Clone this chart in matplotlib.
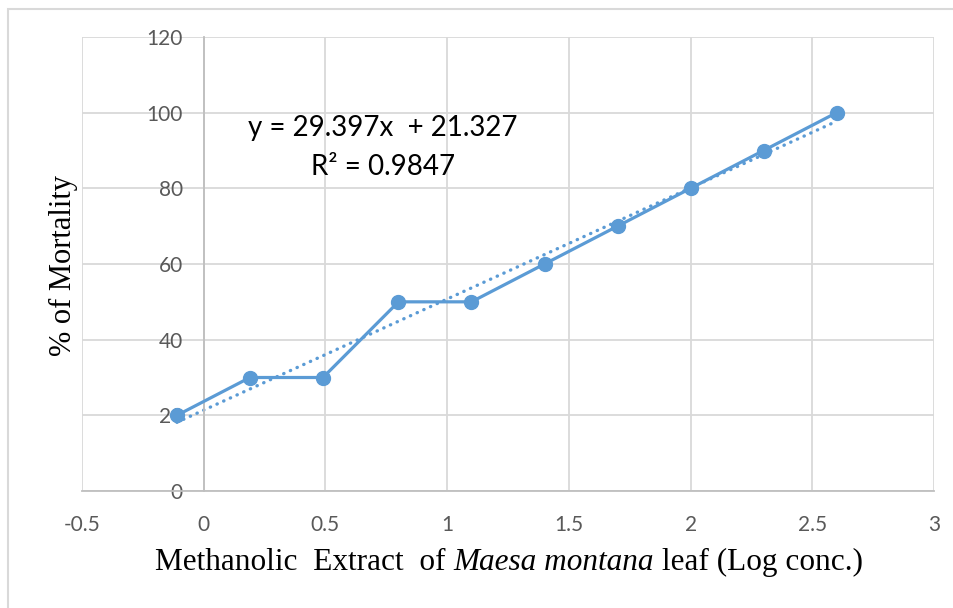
import numpy as np
import matplotlib
matplotlib.use('Agg')
import matplotlib.pyplot as plt
from matplotlib.patches import Rectangle

# Dados
log_conc = [-0.11, 0.19, 0.49, 0.80, 1.10, 1.40, 1.70, 2.00, 2.30, 2.60]
mortality = [20, 30, 30, 50, 50, 60, 70, 80, 90, 100]
x_ticks = [-0.5, 0, 0.5, 1, 1.5, 2, 2.5, 3]
y_ticks = [0, 20, 40, 60, 80, 100, 120]
eq_line = 'y = 29.397x  + 21.327'
r2_line = 'R² = 0.9847'
xlabel_parts = [('Methanolic  Extract  of ', 'normal'),
                ('Maesa montana', 'italic'),
                (' leaf (Log conc.)', 'normal')]

blue = '#5b9bd5'
grid_c = '#d9d9d9'
tick_c = '#595959'

fig = plt.figure(figsize=(9.54, 6.08), dpi=100)
ax = fig.add_axes([82/954, 1 - 491/608, (934-82)/954, (491-37)/608])

# Moldura externa
fig.patches.append(Rectangle((8/954, -0.05), 1.2, 1.05 - 9/608, transform=fig.transFigure,
                             fill=False, edgecolor=grid_c, linewidth=1.5))

ax.set_xlim(-0.5, 3)
ax.set_ylim(0, 120)
ax.set_xticks(x_ticks)
ax.set_yticks(y_ticks)
ax.set_xticklabels(['-0.5', '0', '0.5', '1', '1.5', '2', '2.5', '3'])
ax.grid(True, color=grid_c, linewidth=1.3)
ax.set_axisbelow(True)

for s in ['top', 'right']:
    ax.spines[s].set_visible(False)
ax.spines['left'].set_position(('data', 0))
ax.spines['left'].set_color('#bfbfbf')
ax.spines['left'].set_linewidth(1.3)
ax.spines['bottom'].set_color('#bfbfbf')
ax.spines['bottom'].set_linewidth(1.3)
ax.tick_params(length=0, labelsize=15, labelcolor=tick_c)
ax.tick_params(axis='y', pad=15)
ax.tick_params(axis='x', pad=17)
for lb in ax.get_xticklabels() + ax.get_yticklabels():
    lb.set_family('Lato')

# Série e linha de tendência
ax.plot(log_conc, mortality, color=blue, linewidth=2.3, marker='o', markersize=10,
        zorder=3, clip_on=False)
coef = np.polyfit(log_conc, mortality, 1)
xt = np.array([min(log_conc), max(log_conc)])
ax.plot(xt, np.polyval(coef, xt), color=blue, linewidth=2.4, linestyle=(0, (0.1, 2.1)),
        dash_capstyle='round', zorder=2)

ax.text(0.735, 96, eq_line, fontsize=20, family='Lato', color='black',
        ha='center', va='center')
ax.text(0.735, 85.7, r2_line, fontsize=20, family='Lato', color='black',
        ha='center', va='center')

# Título do eixo x com parte em itálico
renderer = fig.canvas.get_renderer()
fs = 22.5
texts = []
total = 0
for s, style in xlabel_parts:
    t = fig.text(0, 1 - 562/608, s, family='Liberation Serif', style=style,
                 fontsize=fs, ha='left', va='center')
    w = t.get_window_extent(renderer).width
    texts.append((t, w))
    total += w
x0 = 509 - total / 2
for t, w in texts:
    t.set_x(x0 / 954)
    x0 += w

fig.text(63/954, 1 - 265/608, '% of Mortality', family='Liberation Serif', fontsize=22,
         rotation=90, ha='center', va='center')

plt.savefig('out.png', dpi=100)
